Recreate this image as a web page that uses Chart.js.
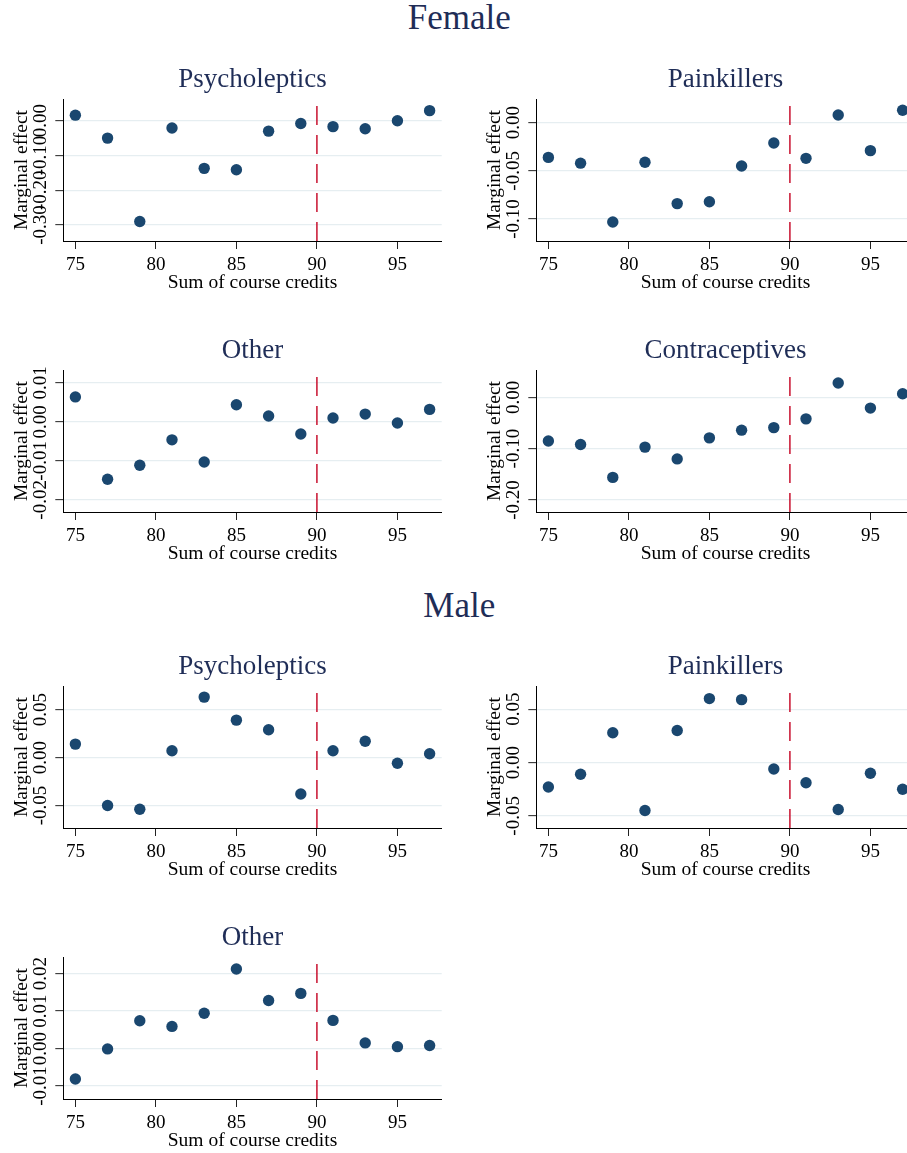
<!DOCTYPE html>
<html>
<head>
<meta charset="utf-8">
<script src="https://cdn.jsdelivr.net/npm/chart.js@4.4.1/dist/chart.umd.min.js"></script>
<style>
html, body { margin: 0; padding: 0; background: #fff; overflow: hidden; }
#page { position: relative; width: 907px; height: 1153px; overflow: hidden; }
.group { position: absolute; left: 0; width: 918.6px; text-align: center;
  font-family: "Liberation Serif", "Times New Roman", serif; font-size: 35px;
  line-height: 40px; color: #1f2d57; }
.panel { position: absolute; width: 450px; height: 238px; }
</style>
</head>
<body>
<div id="page">
  <div class="group" style="top:-1.8px">Female</div>
  <div class="group" style="top:585.6px">Male</div>
  <div class="panel" style="left:0px;top:59.2px"><canvas id="c1" width="450" height="238"></canvas></div>
  <div class="panel" style="left:473.4px;top:59.2px"><canvas id="c2" width="450" height="238"></canvas></div>
  <div class="panel" style="left:0px;top:329.5px"><canvas id="c3" width="450" height="238"></canvas></div>
  <div class="panel" style="left:473.4px;top:329.5px"><canvas id="c4" width="450" height="238"></canvas></div>
  <div class="panel" style="left:0px;top:646.4px"><canvas id="c5" width="450" height="238"></canvas></div>
  <div class="panel" style="left:473.4px;top:646.4px"><canvas id="c6" width="450" height="238"></canvas></div>
  <div class="panel" style="left:0px;top:917.2px"><canvas id="c7" width="450" height="238"></canvas></div>
</div>
<script>
// x values: sum of course credits
const credits = [75, 77, 79, 81, 83, 85, 87, 89, 91, 93, 95, 97];
const cutoff = 90;
const xTicks = [75, 80, 85, 90, 95];

// marginal effects, female
const femalePsycho = [0.016, -0.050, -0.290, -0.021, -0.137, -0.141, -0.030, -0.008, -0.017, -0.023, 0.000, 0.029];
const femalePain = [-0.036, -0.042, -0.103, -0.041, -0.084, -0.082, -0.045, -0.021, -0.037, 0.008, -0.029, 0.013];
const femaleOther = [0.0064, -0.0147, -0.0111, -0.0046, -0.0103, 0.0044, 0.0015, -0.0031, 0.0010, 0.0020, -0.0003, 0.0032];
const femaleContra = [-0.085, -0.092, -0.156, -0.097, -0.120, -0.079, -0.064, -0.059, -0.042, 0.028, -0.021, 0.007];

// marginal effects, male
const malePsycho = [0.014, -0.050, -0.054, 0.007, 0.063, 0.039, 0.029, -0.038, 0.007, 0.017, -0.006, 0.004];
const malePain = [-0.023, -0.011, 0.028, -0.045, 0.030, 0.060, 0.059, -0.006, -0.019, -0.044, -0.010, -0.025];
const maleOther = [-0.0081, -0.0001, 0.0074, 0.0059, 0.0094, 0.0212, 0.0128, 0.0147, 0.0075, 0.0015, 0.0005, 0.0008];

// y tick labels
const femalePsychoTicks = [-0.3, -0.2, -0.1, 0];
const femalePainTicks = [-0.1, -0.05, 0];
const femaleOtherTicks = [-0.02, -0.01, 0, 0.01];
const femaleContraTicks = [-0.2, -0.1, 0];
const malePsychoTicks = [-0.05, 0, 0.05];
const malePainTicks = [-0.05, 0, 0.05];
const maleOtherTicks = [-0.01, 0, 0.01, 0.02];

Chart.defaults.font.family = '"Liberation Serif", "Times New Roman", serif';
Chart.defaults.color = '#000';

const navy = '#1a476f';

function makePanel(id, title, values, ticks, yMin, yMax) {
	const points = credits.map((c, i) => ({x: c, y: values[i]}));
	new Chart(document.getElementById(id), {
		type: 'scatter',
		data: {
			datasets: [{
				data: points,
				backgroundColor: navy,
				borderWidth: 0,
				pointRadius: 5.7,
				pointHoverRadius: 5.7,
				clip: false,
				order: 1
			}, {
				type: 'line',
				data: [{x: cutoff, y: yMin}, {x: cutoff, y: yMax}],
				borderColor: '#c8102e',
				borderWidth: 1.5,
				borderDash: [19, 10],
				pointRadius: 0,
				order: 2
			}]
		},
		options: {
			responsive: false,
			animation: false,
			layout: { padding: {left: 0, right: 8.3, top: 0, bottom: 0}, autoPadding: false },
			plugins: {
				legend: { display: false },
				tooltip: { enabled: false },
				title: {
					display: true,
					text: title,
					fullSize: false,
					color: '#1f2d57',
					font: { size: 27, weight: 'normal' },
					padding: {top: 5.0, bottom: 2.6}
				}
			},
			scales: {
				x: {
					type: 'linear',
					min: 74.25,
					max: 97.75,
					afterBuildTicks: (scale) => { scale.ticks = xTicks.map(v => ({value: v})); },
					afterFit: (scale) => { scale.height = 56; },
					grid: { drawOnChartArea: false, tickLength: 8, tickColor: '#222' },
					border: { color: '#000', width: 1 },
					ticks: { font: { size: 19 }, padding: 5.0, maxRotation: 0, autoSkip: false },
					title: { display: true, text: 'Sum of course credits', font: { size: 19.5 }, padding: {top: 0, bottom: 2.0} }
				},
				y: {
					min: yMin,
					max: yMax,
					afterBuildTicks: (scale) => { scale.ticks = ticks.map(v => ({value: v})); },
					afterFit: (scale) => { scale.width = 63.3; },
					grid: { color: '#e6eef1', lineWidth: 1.3, tickLength: 8, tickColor: '#222', tickWidth: 1 },
					border: { color: '#000', width: 1 },
					ticks: {
						font: { size: 19 },
						minRotation: 90,
						maxRotation: 90,
						crossAlign: 'center',
						padding: -5.4,
						autoSkip: false,
						callback: (v) => Number(v).toFixed(2)
					},
					title: { display: true, text: 'Marginal effect', font: { size: 19.5 }, padding: {top: 10.0, bottom: 0} }
				}
			}
		}
	});
}

makePanel('c1', 'Psycholeptics', femalePsycho, femalePsychoTicks, -0.346, 0.0625);
makePanel('c2', 'Painkillers', femalePain, femalePainTicks, -0.1228, 0.0246);
makePanel('c3', 'Other', femaleOther, femaleOtherTicks, -0.0231, 0.0133);
makePanel('c4', 'Contraceptives', femaleContra, femaleContraTicks, -0.2234, 0.0532);
makePanel('c5', 'Psycholeptics', malePsycho, malePsychoTicks, -0.0735, 0.0746);
makePanel('c6', 'Painkillers', malePain, malePainTicks, -0.0614, 0.0718);
makePanel('c7', 'Other', maleOther, maleOtherTicks, -0.01345, 0.0244);
</script>
</body>
</html>
